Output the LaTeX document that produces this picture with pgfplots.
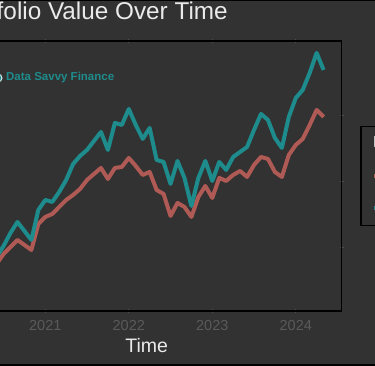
\documentclass[border=0pt]{standalone}
\usepackage{pgfplots}
\pgfplotsset{compat=1.18}
\usepackage{fontspec}
\setmainfont{Liberation Sans}
\definecolor{bg}{HTML}{323232}
\definecolor{teal1}{HTML}{1E8C8C}
\definecolor{red1}{HTML}{B05A55}
\definecolor{ticklab}{HTML}{5A5A5A}
\definecolor{tickc}{HTML}{4E4E4E}
\definecolor{txt}{HTML}{EAEAEA}
\begin{document}
\begin{tikzpicture}[x=1pt,y=1pt]
\useasboundingbox (0,0) rectangle (375,366);
\fill[bg] (0,0) rectangle (375,366);
\clip (0,0) rectangle (375,366);
\begin{axis}[
  at={(341.7pt,325pt)}, anchor=north east,
  scale only axis, width=398pt, height=270pt,
  xmin=-2.6, xmax=54.6, ymin=5150, ymax=25600,
  axis background/.style={fill=bg},
  axis line style={black, line width=1.3pt},
  xtick={12,24,36,48}, xticklabels={2021,2022,2023,2024},
  ytick={10000,15000,20000}, yticklabels={},
  tick align=center, major tick length=4pt,
  tick style={tickc, line width=0.8pt},
  /pgf/number format/assume math mode=true,
  xticklabel style={font=\fontsize{14.5}{16}\selectfont, text=ticklab, inner sep=0pt, anchor=north, yshift=-7pt},
  xlabel={Time},
  xlabel style={at={(axis description cs:0.5,0)}, anchor=base, yshift=-41.7pt, xshift=4pt, font=\fontsize{19.5}{22}\selectfont, text=txt},
  title={Portfolio Value Over Time},
  title style={at={(axis description cs:0.714,1)}, anchor=base east, yshift=15pt, font=\fontsize{24.3}{28}\selectfont, text=txt, inner sep=0pt},
  legend style={at={(1,0.5)}, anchor=west, xshift=18.3pt, draw=black, line width=1.5pt, fill=bg, text=txt,
    font=\fontsize{14}{16}\selectfont, inner xsep=11pt, inner ysep=8.5pt, row sep=14pt,
    nodes={text height=11pt, text depth=3pt}, cells={anchor=west}},
  legend image code/.code={\draw[#1, line cap=butt] (0pt,0pt) -- (17pt,0pt);},
  every axis plot/.append style={line width=4pt, line join=round},
]
\addlegendimage{empty legend}
\addlegendentry{\hspace*{-22pt}\fontsize{16}{18}\selectfont Investment}
\addplot[red1] coordinates {
(0,10000) (1,9621) (2,7121) (3,8106) (4,8409) (5,8712) (6,9470) (7,10000) (8,10530) (9,10152)
(10,9773) (11,11742) (12,12273) (13,12500) (14,13030) (15,13561) (16,13939) (17,14394) (18,15076) (19,15530)
(20,15985) (21,15152) (22,15985) (23,16061) (24,16742) (25,16136) (26,15455) (27,15682) (28,14318) (29,14015)
(30,12348) (31,13333) (32,13030) (33,12273) (34,13788) (35,14621) (36,13712) (37,15227) (38,15000) (39,15455)
(40,15758) (41,15303) (42,16212) (43,16818) (44,16667) (45,15682) (46,15303) (47,16970) (48,17727) (49,18182)
(50,19242) (51,20379) (52,19848)
};
\addlegendentry{Benchmark}
\addplot[teal1] coordinates {
(0,10000) (1,9394) (2,6136) (3,7879) (4,8636) (5,9242) (6,10076) (7,11061) (8,11894) (9,11212)
(10,10530) (11,12803) (12,13561) (13,13409) (14,14167) (15,15076) (16,16288) (17,16894) (18,17348) (19,18030)
(20,18712) (21,17348) (22,19394) (23,19242) (24,20455) (25,19242) (26,18182) (27,19015) (28,16591) (29,16439)
(30,14773) (31,16515) (32,15227) (33,13106) (34,15227) (35,16515) (36,15000) (37,16439) (38,15833) (39,16818)
(40,17197) (41,17576) (42,18864) (43,20076) (44,19621) (45,18258) (46,17500) (47,19848) (48,21288) (49,21894)
(50,23182) (51,24697) (52,23409)
};
\addlegendentry{Data Savvy Finance}
\draw[white!80!teal1, fill=teal1, line width=1pt] (rel axis cs:0.1364,0.863) circle (4pt);
\node[anchor=west, inner sep=0pt, text=teal1, font=\bfseries\fontsize{11.5}{13}\selectfont] at (rel axis cs:0.1565,0.863) {Data Savvy Finance};
\end{axis}
\draw[black, line width=3pt] (-5,366) -- (380,366);
\draw[black, line width=3pt] (-5,0) -- (380,0);
\end{tikzpicture}
\end{document}
